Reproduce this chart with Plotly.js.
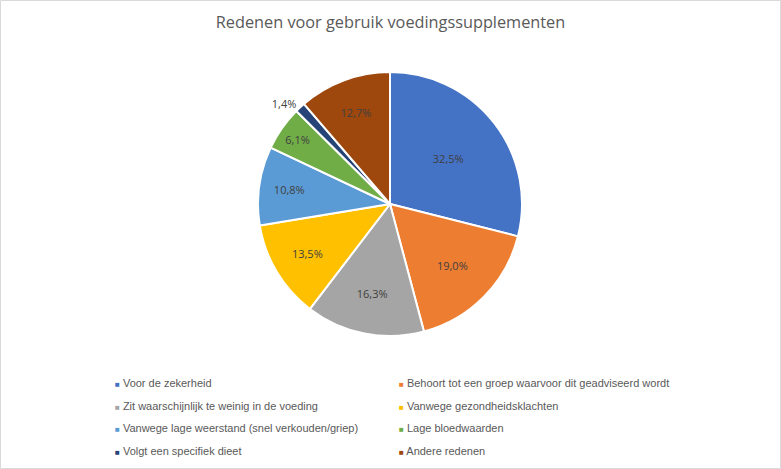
<!DOCTYPE html>
<html><head><meta charset="utf-8">
<script src="https://cdn.plot.ly/plotly-3.0.1.min.js"></script>
<style>html,body{margin:0;padding:0;background:#fff}#chart{width:781px;height:469px}</style>
</head><body><div id="chart"></div>
<script>
var categories = [
  "Voor de zekerheid",
  "Behoort tot een groep waarvoor dit geadviseerd wordt",
  "Zit waarschijnlijk te weinig in de voeding",
  "Vanwege gezondheidsklachten",
  "Vanwege lage weerstand (snel verkouden/griep)",
  "Lage bloedwaarden",
  "Volgt een specifiek dieet",
  "Andere redenen"
];
var values = [32.5, 19.0, 16.3, 13.5, 10.8, 6.1, 1.4, 12.7];
var colors = ["#4472C4", "#ED7D31", "#A5A5A5", "#FFC000", "#5B9BD5", "#70AD47", "#264478", "#9E480E"];

var W = 781, H = 469;
var cx = 390, cy = 204, r = 132;

var trace = {
  type: "pie",
  labels: categories,
  values: values,
  sort: false,
  direction: "clockwise",
  rotation: 0,
  marker: {colors: colors, line: {color: "#ffffff", width: 2}},
  texttemplate: "%{value:.1f}%",
  textposition: ["inside","inside","inside","inside","inside","inside","outside","inside"],
  insidetextorientation: "horizontal",
  textfont: {family: "Open Sans, sans-serif", size: 11, color: "#404040"},
  hoverinfo: "label+value",
  domain: {x: [(cx - r) / W, (cx + r) / W], y: [1 - (cy + r) / H, 1 - (cy - r) / H]},
  showlegend: false
};

var annotations = [];
var colX = [113, 397], rowY = [383, 406, 428, 451];
categories.forEach(function (c, i) {
  var col = i % 2, row = Math.floor(i / 2);
  annotations.push({
    xref: "paper", yref: "paper",
    x: colX[col] / W, y: 1 - rowY[row] / H,
    xanchor: "left", yanchor: "middle", showarrow: false,
    text: '<span style="color:' + colors[i] + ';font-size:8px">■</span> ' + c,
    font: {family: "Liberation Sans, Arial, sans-serif", size: 11, color: "#595959"}
  });
});

var layout = {
  width: W, height: H,
  margin: {l: 0, r: 0, t: 0, b: 0},
  paper_bgcolor: "#ffffff",
  separators: ",.",
  title: {text: "Redenen voor gebruik voedingssupplementen", x: 0.5, xanchor: "center", y: 1 - 22 / H, yanchor: "middle",
          font: {family: "Open Sans, sans-serif", size: 16.3, color: "#595959"}},
  annotations: annotations,
  shapes: [{type: "rect", xref: "paper", yref: "paper", x0: 0.5 / W, x1: 1 - 0.5 / W, y0: 0.5 / H, y1: 1 - 0.5 / H,
            line: {color: "#d9d9d9", width: 1}}],
  showlegend: false
};

Plotly.newPlot("chart", [trace], layout, {displayModeBar: false, staticPlot: true});
</script></body></html>
